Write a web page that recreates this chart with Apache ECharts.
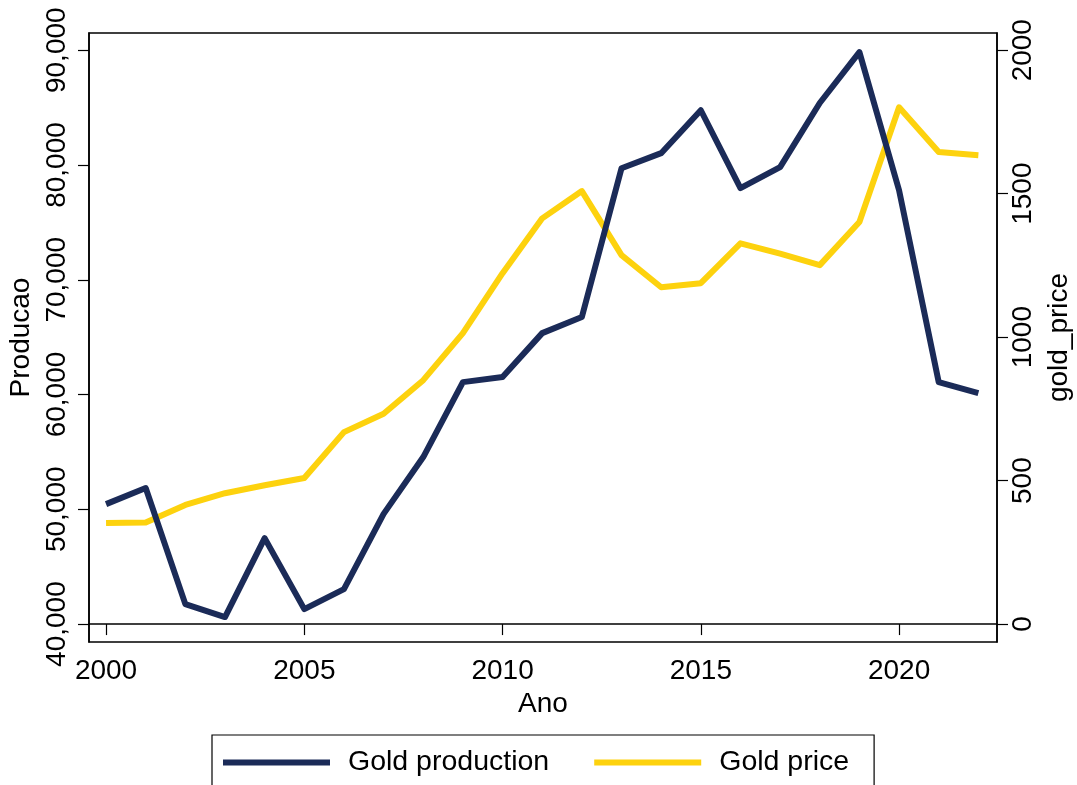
<!DOCTYPE html>
<html>
<head>
<meta charset="utf-8">
<script src="https://cdn.jsdelivr.net/npm/echarts@6/dist/echarts.min.js"></script>
<style>
  html, body { margin: 0; padding: 0; background: #fff; }
  #chart { width: 1077px; height: 785px; }
</style>
</head>
<body>
<div id="chart"></div>
<script>
const years = [2000,2001,2002,2003,2004,2005,2006,2007,2008,2009,2010,2011,2012,2013,2014,2015,2016,2017,2018,2019,2020,2021,2022];
const production = [50450,51850,41740,40610,47490,41300,43050,49600,54550,61080,61520,65350,66750,79720,81030,84770,77980,79810,85400,89830,77800,61080,60120];
const price = [352,354,415,456,484,509,669,733,850,1014,1223,1414,1509,1286,1174,1188,1327,1291,1251,1401,1801,1645,1634];
const xTicks = [2000,2005,2010,2015,2020];
const leftTicks = [40000,50000,60000,70000,80000,90000];
const rightTicks = [0,500,1000,1500,2000];
const seriesNames = ['Gold production','Gold price'];

const FONT = "'Liberation Sans', Arial, Helvetica, sans-serif";
const fmtComma = v => String(v).replace(/\B(?=(\d{3})+(?!\d))/g, ',');
const chart = echarts.init(document.getElementById('chart'), null, {renderer: 'canvas'});
const axisLine = {show: true, lineStyle: {color: '#000', width: 1.5}};
const axisTickCommon = {show: true, length: 11, lineStyle: {color: '#000', width: 1.2}};
chart.setOption({
  animation: false,
  backgroundColor: '#fff',
  textStyle: {fontFamily: FONT},
  grid: {left: 89, right: 80, top: 33, bottom: 143, show: true, borderColor: '#000', borderWidth: 1.5, containLabel: false, outerBoundsMode: 'none'},
  legend: {
    left: 212, top: 735,
    padding: [13, 25, 13, 11],
    borderColor: '#000', borderWidth: 1.2,
    itemWidth: 107, itemHeight: 6, itemGap: 45,
    icon: 'rect',
    textStyle: {fontSize: 28.5, color: '#000', fontFamily: FONT, padding: [0, 0, 0, 13]},
    data: seriesNames
  },
  xAxis: {
    type: 'value', min: 1999.57, max: 2022.47,
    name: 'Ano', nameLocation: 'middle', nameGap: 46,
    nameTextStyle: {fontSize: 28, color: '#000', fontFamily: FONT},
    axisLine: axisLine,
    axisTick: Object.assign({customValues: xTicks}, axisTickCommon),
    axisLabel: {customValues: xTicks, fontSize: 28, color: '#000', margin: 15, fontFamily: FONT, formatter: v => String(v)},
    splitLine: {show: false}
  },
  yAxis: [
    {
      type: 'value', position: 'left', min: 38437.5, max: 91500,
      name: 'Producao', nameLocation: 'middle', nameGap: 52,
      nameTextStyle: {fontSize: 28, color: '#000', fontFamily: FONT},
      axisLine: axisLine,
      axisTick: Object.assign({customValues: leftTicks}, axisTickCommon),
      axisLabel: {customValues: leftTicks, rotate: 90, fontSize: 28, color: '#000', margin: 18, fontFamily: FONT, formatter: v => fmtComma(v)},
      splitLine: {show: false}
    },
    {
      type: 'value', position: 'right', min: -62.5, max: 2060,
      name: 'gold_price', nameLocation: 'middle', nameGap: 48,
      nameTextStyle: {fontSize: 28, color: '#000', fontFamily: FONT},
      axisLine: axisLine,
      axisTick: Object.assign({customValues: rightTicks}, axisTickCommon),
      axisLabel: {customValues: rightTicks, rotate: 90, fontSize: 28, color: '#000', margin: 12, fontFamily: FONT, formatter: v => String(v)},
      splitLine: {show: false}
    }
  ],
  series: [
    {
      name: seriesNames[0], type: 'line', yAxisIndex: 0,
      data: years.map((y, i) => [y, production[i]]),
      showSymbol: false, symbol: 'none',
      lineStyle: {color: '#1b2b58', width: 6, join: 'round'},
      itemStyle: {color: '#1b2b58'}, z: 2
    },
    {
      name: seriesNames[1], type: 'line', yAxisIndex: 1,
      data: years.map((y, i) => [y, price[i]]),
      showSymbol: false, symbol: 'none',
      lineStyle: {color: '#fdd20e', width: 6, join: 'round'},
      itemStyle: {color: '#fdd20e'}, z: 1
    }
  ]
});
</script>
</body>
</html>
